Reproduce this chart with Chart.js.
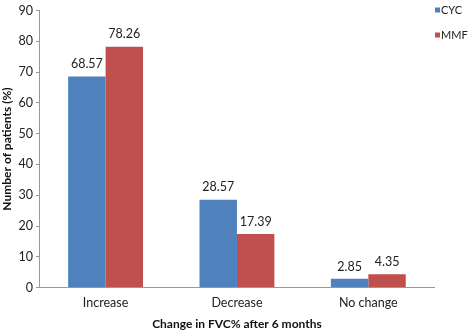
<!DOCTYPE html>
<html>
<head>
<meta charset="utf-8">
<script src="https://cdn.jsdelivr.net/npm/chart.js@4"></script>
<style>
  html, body { margin: 0; padding: 0; background: #fff; }
  #wrap { width: 472px; height: 331px; }
</style>
</head>
<body>
<div id="wrap"><canvas id="c" width="472" height="331"></canvas></div>
<script>
// data
const categories = ["Increase", "Decrease", "No change"];
const cycValues = [68.57, 28.57, 2.85];
const mmfValues = [78.26, 17.39, 4.35];
const seriesNames = ["CYC", "MMF"];
const seriesColors = ["#4F81BD", "#C0504D"];
const yTicks = [0, 10, 20, 30, 40, 50, 60, 70, 80, 90];

const FONT = "Lato, 'Open Sans', sans-serif";

// value labels above bars
const valueLabels = {
  id: "valueLabels",
  afterDatasetsDraw(chart) {
    const ctx = chart.ctx;
    ctx.save();
    ctx.font = "12.5px " + FONT;
    ctx.fillStyle = "#222";
    ctx.textAlign = "center";
    ctx.textBaseline = "bottom";
    chart.data.datasets.forEach((ds, i) => {
      chart.getDatasetMeta(i).data.forEach((bar, j) => {
        ctx.fillText(ds.data[j].toFixed(2), bar.x, bar.y - 6);
      });
    });
    ctx.restore();
  }
};

// small legend at top right, stacked
const sideLegend = {
  id: "sideLegend",
  afterDraw(chart) {
    const ctx = chart.ctx;
    const x = chart.chartArea.right + 1;
    ctx.save();
    ctx.font = "11px " + FONT;
    ctx.textBaseline = "middle";
    ctx.textAlign = "left";
    chart.data.datasets.forEach((ds, i) => {
      const y = 10 + i * 25;
      ctx.fillStyle = ds.backgroundColor;
      ctx.fillRect(x, y - 2.5, 5, 5);
      ctx.fillStyle = "#222";
      ctx.fillText(ds.label, x + 6, y);
    });
    ctx.restore();
  }
};

new Chart(document.getElementById("c"), {
  type: "bar",
  data: {
    labels: categories,
    datasets: [
      { label: seriesNames[0], data: cycValues, backgroundColor: seriesColors[0] },
      { label: seriesNames[1], data: mmfValues, backgroundColor: seriesColors[1] }
    ]
  },
  options: {
    responsive: false,
    animation: false,
    layout: { padding: { top: 4, left: 0, right: 38, bottom: 0 } },
    datasets: { bar: { categoryPercentage: 0.57, barPercentage: 1 } },
    plugins: {
      legend: { display: false },
      tooltip: { enabled: false }
    },
    scales: {
      x: {
        grid: { display: false, drawTicks: true, tickLength: 5, offset: true, color: "#999" },
        border: { color: "#999" },
        ticks: { color: "#222", font: { family: FONT, size: 12.5 }, padding: 3 },
        title: {
          display: true,
          text: "Change in FVC% after 6 months",
          color: "#111",
          font: { family: FONT, size: 12, weight: "bold" },
          padding: { top: 3, bottom: 0 }
        }
      },
      y: {
        min: 0,
        max: 90,
        afterBuildTicks: (axis) => { axis.ticks = yTicks.map(v => ({ value: v })); },
        grid: { drawOnChartArea: false, drawTicks: true, tickLength: 4, color: "#999" },
        border: { color: "#999" },
        ticks: { color: "#222", font: { family: FONT, size: 12.5 }, padding: 3 },
        title: {
          display: true,
          text: "Number of patients (%)",
          color: "#111",
          font: { family: FONT, size: 12, weight: "bold" },
          padding: { top: 0, bottom: 1 }
        }
      }
    }
  },
  plugins: [valueLabels, sideLegend]
});
</script>
</body>
</html>
